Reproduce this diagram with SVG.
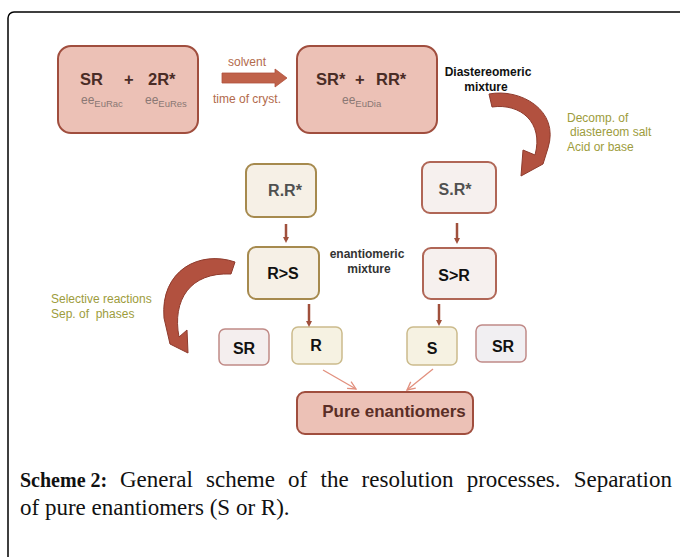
<svg xmlns="http://www.w3.org/2000/svg" width="680" height="557" viewBox="0 0 680 557">
<defs>
<style>
.t{font-family:"Liberation Sans",Arial,sans-serif}
.big{fill:#ecc1b6;stroke:#a04e3e;stroke-width:2}
.gold{fill:#f6f0e6;stroke:#a68a4e;stroke-width:2}
.red{fill:#f6f0ee;stroke:#b06656;stroke-width:2}
.lbl{font-family:"Liberation Sans",Arial,sans-serif;font-weight:bold;font-size:16px;fill:#111;text-anchor:middle}
.olive{font-family:"Liberation Sans",Arial,sans-serif;font-size:12px;fill:#9d9c3c}
.brn{font-family:"Liberation Sans",Arial,sans-serif;font-size:12px;fill:#b26a4c}
.ee{font-family:"Liberation Sans",Arial,sans-serif;font-size:12px;fill:#8a7874}
.sub{font-size:9.5px}
.dn{stroke:#a0503c;stroke-width:2.5;fill:none;marker-end:url(#ah)}
.thin{stroke:#e2907e;stroke-width:1.3;fill:none;marker-end:url(#oh)}
.curve{fill:#b2513f;stroke:#8e3b2d;stroke-width:1}
.cap{font-family:"Liberation Serif","Times New Roman",serif;font-size:23px;fill:#111}
.capb{font-family:"Liberation Serif","Times New Roman",serif;font-size:20px;font-weight:bold;fill:#111}
</style>
<marker id="ah" markerWidth="6" markerHeight="6" refX="3" refY="3" orient="auto" markerUnits="userSpaceOnUse" viewBox="0 0 6 6">
<path d="M0,0 L6,3 L0,6 Z" fill="#a0503c"/>
</marker>
<marker id="oh" markerWidth="10" markerHeight="10" refX="9" refY="5" orient="auto" markerUnits="userSpaceOnUse" viewBox="0 0 10 10">
<path d="M1,1 L9,5 L1,9" fill="none" stroke="#e2907e" stroke-width="1.3"/>
</marker>
</defs>
<rect x="0" y="0" width="680" height="557" fill="#ffffff"/>
<rect x="8" y="12" width="680" height="560" rx="6" fill="none" stroke="#000" stroke-width="1.5"/>

<g id="racemate">
<rect class="big" x="58" y="46" width="140" height="87" rx="13"/>
<text class="t" x="80" y="85" font-size="16.5" font-weight="bold" fill="#4a2c26">SR</text>
<text class="t" x="124" y="85" font-size="16.5" font-weight="bold" fill="#4a2c26">+</text>
<text class="t" x="148" y="85" font-size="16.5" font-weight="bold" fill="#4a2c26">2R*</text>
<text class="ee" x="81" y="104">ee<tspan class="sub" dy="3">EuRac</tspan></text>
<text class="ee" x="145" y="104">ee<tspan class="sub" dy="3">EuRes</tspan></text>
</g>

<g id="step1">
<path d="M222,73 H275 V69 L287,78 L275,87 V83 H222 Z" fill="#c0624a" stroke="#b0503c" stroke-width="0.8"/>
<text class="brn" x="228" y="66">solvent</text>
<text class="brn" x="213" y="103">time of cryst.</text>
</g>

<g id="diastereomers">
<rect class="big" x="297" y="46" width="140" height="87" rx="13"/>
<text class="t" x="316" y="85" font-size="16.5" font-weight="bold" fill="#4a2c26">SR*</text>
<text class="t" x="355" y="85" font-size="16.5" font-weight="bold" fill="#4a2c26">+</text>
<text class="t" x="376" y="85" font-size="16.5" font-weight="bold" fill="#4a2c26">RR*</text>
<text class="ee" x="342" y="104">ee<tspan class="sub" dy="3">EuDia</tspan></text>
</g>

<g id="diast-label">
<text class="t" x="488" y="76" font-size="12" font-weight="bold" fill="#111" text-anchor="middle">Diastereomeric</text>
<text class="t" x="486" y="91" font-size="12" font-weight="bold" fill="#111" text-anchor="middle">mixture</text>
</g>

<g id="decomp-label">
<text class="olive" x="567" y="122">Decomp. of</text>
<text class="olive" x="570" y="136">diastereom salt</text>
<text class="olive" x="567" y="151">Acid or base</text>
</g>

<g id="RRstar">
<rect class="gold" x="246" y="164" width="70" height="53" rx="8"/>
<text class="lbl" x="285" y="196" style="fill:#505050">R.R*</text>
</g>
<g id="SRstar">
<rect class="red" x="422" y="162" width="74" height="51" rx="8"/>
<text class="lbl" x="455" y="195" style="fill:#505050">S.R*</text>
</g>
<g id="RgtS">
<rect class="gold" x="248" y="247" width="71" height="52" rx="8"/>
<text class="lbl" x="283" y="279">R&gt;S</text>
</g>
<g id="SgtR">
<rect class="red" x="423" y="248" width="73" height="51" rx="8"/>
<text class="lbl" x="454" y="281">S&gt;R</text>
</g>
<g id="enant-label">
<text class="t" x="367" y="258" font-size="12" font-weight="bold" fill="#333" text-anchor="middle">enantiomeric</text>
<text class="t" x="369" y="273" font-size="12" font-weight="bold" fill="#333" text-anchor="middle">mixture</text>
</g>

<g id="sel-label">
<text class="olive" x="51" y="303">Selective reactions</text>
<text class="olive" x="51" y="318" xml:space="preserve">Sep. of  phases</text>
</g>

<g id="SR-left">
<rect x="219" y="329" width="50" height="36" rx="6" fill="#f4eeee" stroke="#c08a86" stroke-width="1.5"/>
<text class="lbl" x="244" y="354">SR</text>
</g>
<g id="R">
<rect x="292" y="327" width="50" height="37" rx="6" fill="#f6f2e2" stroke="#cbbb8c" stroke-width="1.5"/>
<text class="lbl" x="316" y="351">R</text>
</g>
<g id="S">
<rect x="407" y="327" width="50" height="38" rx="6" fill="#f6f2e2" stroke="#cbbb8c" stroke-width="1.5"/>
<text class="lbl" x="432" y="354">S</text>
</g>
<g id="SR-right">
<rect x="476" y="325" width="50" height="37" rx="6" fill="#f1eff2" stroke="#c08a88" stroke-width="1.5"/>
<text class="lbl" x="503" y="352">SR</text>
</g>

<g id="pure">
<rect class="big" x="297" y="392" width="176" height="42" rx="8"/>
<text class="t" x="394" y="417" font-size="17" font-weight="bold" fill="#5a2e26" text-anchor="middle">Pure enantiomers</text>
</g>

<g id="connectors">
<path class="curve" d="M489,94 C520,88 560,110 548,148 L543,164 L521,176 L523,150 L535,155 C544,122 520,103 492,107 Z"/>
<path class="curve" d="M235,262 C200,250 160,270 164,318 L170,344 L188,353 L187,330 L179,337 C172,300 190,272 231,274 Z"/>
<line class="dn" x1="286" y1="224" x2="286" y2="240"/>
<line class="dn" x1="457" y1="223" x2="457" y2="241"/>
<line class="dn" x1="309" y1="304" x2="309" y2="324"/>
<line class="dn" x1="439" y1="304" x2="439" y2="323"/>
<line class="thin" x1="323" y1="370" x2="356" y2="389"/>
<line class="thin" x1="433" y1="369" x2="407" y2="390"/>
</g>

<g id="caption">
<text class="capb" x="20" y="487">Scheme 2:</text>
<text class="cap" x="120" y="487">General</text>
<text class="cap" x="206" y="487">scheme</text>
<text class="cap" x="288" y="487">of</text>
<text class="cap" x="320.5" y="487">the</text>
<text class="cap" x="361.6" y="487">resolution</text>
<text class="cap" x="466.7" y="487">processes.</text>
<text class="cap" x="672" y="487" text-anchor="end">Separation</text>
<text class="cap" x="20" y="515">of pure enantiomers (S or R).</text>
</g>
</svg>
